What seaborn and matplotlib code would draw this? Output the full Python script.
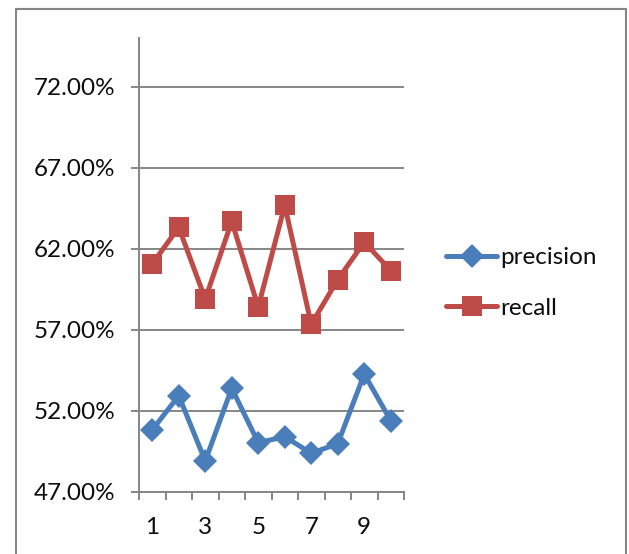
import matplotlib
matplotlib.use("Agg")
import matplotlib.pyplot as plt
from matplotlib.patches import Rectangle
from matplotlib.ticker import PercentFormatter, FixedLocator, NullFormatter
import seaborn as sns
import pandas as pd

runs = [1, 2, 3, 4, 5, 6, 7, 8, 9, 10]
precision = [0.5083, 0.5294, 0.4891, 0.5340, 0.5004, 0.5041, 0.4939, 0.4998, 0.5427, 0.5140]
recall = [0.6107, 0.6332, 0.5890, 0.6369, 0.5841, 0.6468, 0.5734, 0.6010, 0.6241, 0.6066]
series_names = ["precision", "recall"]
y_ticks = [0.47, 0.52, 0.57, 0.62, 0.67, 0.72]
x_labels = [1, 3, 5, 7, 9]

sns.set_theme(style="white")
plt.rcParams["font.family"] = ["Lato", "DejaVu Sans"]

df = pd.DataFrame({
    "run": runs * 2,
    "value": precision + recall,
    "series": [series_names[0]] * len(runs) + [series_names[1]] * len(runs),
})

fig = plt.figure(figsize=(6.29, 5.54), dpi=100)
ax = fig.add_axes([139 / 629, 1 - 492 / 554, (404 - 139) / 629, (492 - 38) / 554])

palette = {"precision": "#4A7EBB", "recall": "#BE4B48"}
markers = {"precision": "D", "recall": "s"}
sizes = {"precision": 12, "recall": 14}
for name in series_names:
    sub = df[df["series"] == name]
    sns.lineplot(data=sub, x="run", y="value", ax=ax, color=palette[name],
                 linewidth=3.6, marker=markers[name], markersize=sizes[name],
                 markeredgewidth=0, label=name)

grid_color = "#868686"
text_color = "#0d0d0d"
fs = 17.5
ax.set_xlim(0.5, 10.5)
ax.set_ylim(0.47, 0.75)
ax.yaxis.set_major_locator(FixedLocator(y_ticks))
ax.yaxis.set_major_formatter(PercentFormatter(1.0, decimals=2))
ax.grid(axis="y", color=grid_color, linewidth=1.4)
ax.set_axisbelow(True)

# category boundaries carry the tick marks, centres carry the labels
ax.set_xticks([b + 0.5 for b in range(0, 11)])
ax.xaxis.set_major_formatter(NullFormatter())
ax.set_xticks(x_labels, minor=True)
ax.set_xticklabels([str(v) for v in x_labels], minor=True)
ax.tick_params(axis="x", which="major", direction="out", length=6, width=1.4,
               color=grid_color, bottom=True)
ax.tick_params(axis="x", which="minor", length=0, pad=18, labelsize=fs,
               labelcolor=text_color, bottom=True)
ax.tick_params(axis="y", direction="out", length=6, width=1.4, color=grid_color,
               pad=11, labelsize=fs, labelcolor=text_color, left=True)

for side in ["top", "right"]:
    ax.spines[side].set_visible(False)
for side in ["left", "bottom"]:
    ax.spines[side].set_color(grid_color)
    ax.spines[side].set_linewidth(1.4)
ax.set_xlabel("")
ax.set_ylabel("")

handles, labels = ax.get_legend_handles_labels()
ax.legend(handles, labels, loc="center left", bbox_to_anchor=(446 / 629, 1 - 283 / 554),
          bbox_transform=fig.transFigure, frameon=False, fontsize=fs,
          handlelength=2.1, handletextpad=0.12, labelspacing=1.2, borderpad=0,
          borderaxespad=0, labelcolor=text_color)

fig.patches.append(Rectangle((16 / 629, -0.05), (626 - 16) / 629, 1.05 - 9 / 554,
                             transform=fig.transFigure, fill=False,
                             edgecolor="#868686", linewidth=1.5))

fig.savefig("out.png", dpi=100)
